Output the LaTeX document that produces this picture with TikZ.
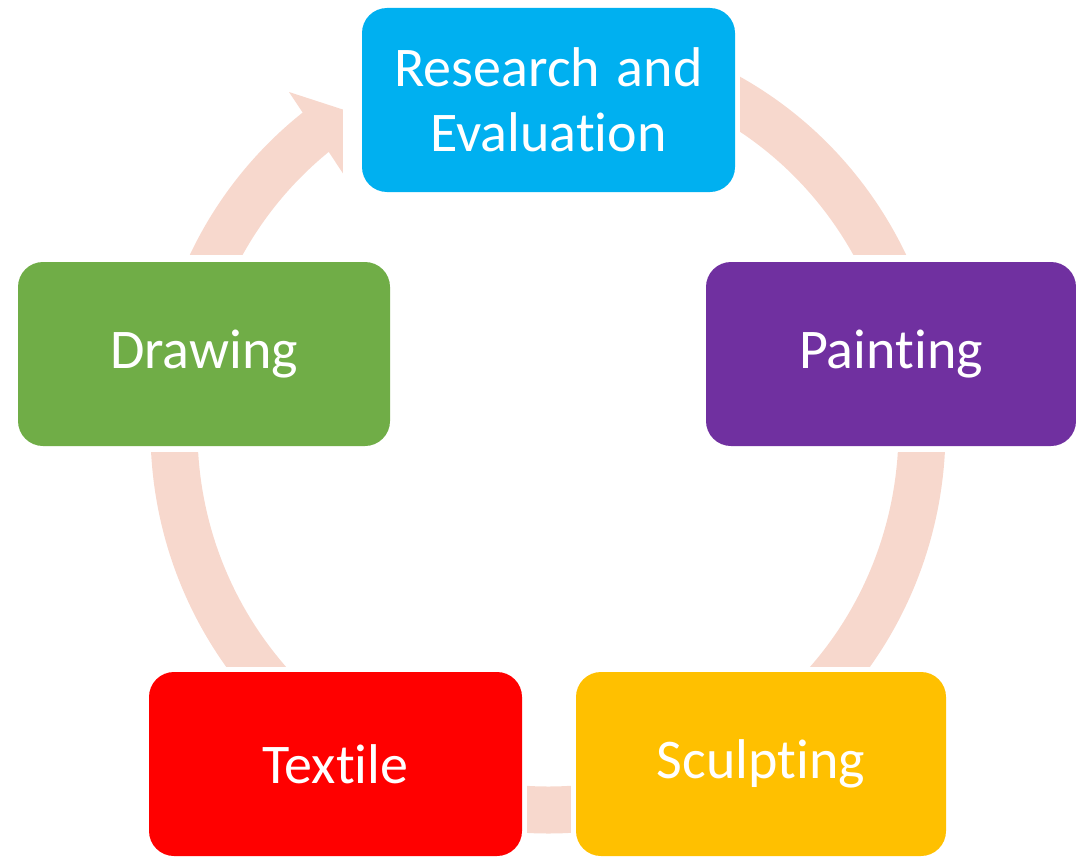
\documentclass[tikz,border=0pt]{standalone}
\usepackage{fontspec}
\setmainfont{Carlito}[Ligatures=NoCommon]
\definecolor{arcc}{RGB}{247,216,205}
\definecolor{cblue}{RGB}{0,176,240}
\definecolor{cpurple}{RGB}{112,48,160}
\definecolor{cgold}{RGB}{255,192,0}
\definecolor{cred}{RGB}{255,0,0}
\definecolor{cgreen}{RGB}{112,173,71}
\tikzset{
  stage/.style={rectangle, rounded corners=25pt, inner sep=0pt, minimum height=184pt,
    text=white, align=center, font=\fontsize{56}{65}\selectfont},
  band/.style={draw=arcc, line width=47pt},
  erase/.style={fill=white}
}
\begin{document}
\begin{tikzpicture}[x=1pt,y=1pt]
\useasboundingbox (0,0) rectangle (1076,-859);
% cycle band
\draw[band] (548,-430) ++(127.5:374 and 380) arc[start angle=127.5, end angle=430, x radius=374, y radius=380];
\fill[arcc] (289,-92) -- (372,-119) -- (350,-184) -- cycle;
% gaps around the stages
\fill[erase] (343,0) rectangle (740,-198);
\fill[erase] (700,-255) rectangle (1076,-452);
\fill[erase] (571,-667) rectangle (1076,-859);
\fill[erase] (0,-667) rectangle (527,-859);
\fill[erase] (0,-255) rectangle (396,-452);
% stages
\node[stage, fill=cblue, minimum width=373pt] (research) at (548.5,-100) {Research\hspace{0.3em}and\\Evaluation};
\node[stage, fill=cpurple, minimum width=370pt] (painting) at (891,-354) {Painting};
\node[stage, fill=cgold, minimum width=370pt] (sculpting) at (761,-764) {Sculpting};
\node[stage, fill=cred, minimum width=373pt] (textile) at (335.5,-764) {Textile};
\node[stage, fill=cgreen, minimum width=372pt] (drawing) at (204,-354) {Drawing};
\end{tikzpicture}
\end{document}
